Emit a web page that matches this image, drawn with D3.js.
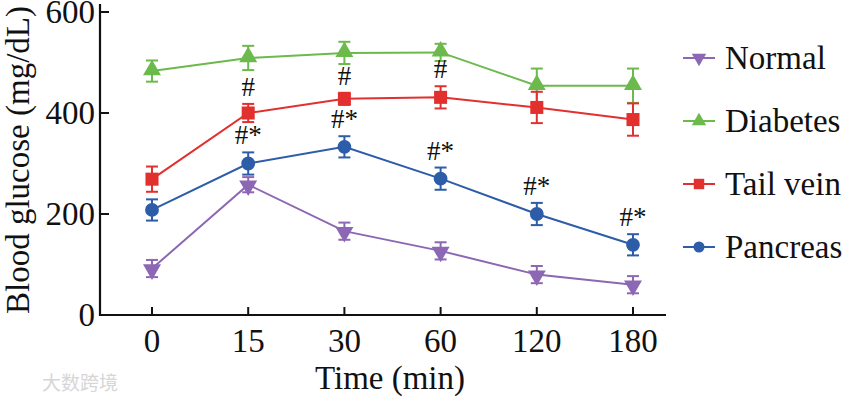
<!DOCTYPE html>
<html>
<head>
<meta charset="utf-8">
<script src="https://cdn.jsdelivr.net/npm/d3@7"></script>
<style>
  html, body { margin: 0; padding: 0; background: #fff; }
  svg { display: block; }
  text { font-family: "Liberation Serif", "DejaVu Serif", serif; fill: #111; }
</style>
</head>
<body>
<div id="chart"></div>
<script>
// time points (min)
const categories = ["0", "15", "30", "60", "120", "180"];
const yTicks = [0, 200, 400, 600];

// mean values and error (mg/dL)
const normal = [92, 258, 166, 127, 80, 60];
const normalErr = [17, 15, 17, 17, 17, 17];
const diabetes = [483, 509, 519, 520, 454, 454];
const diabetesErr = [21, 24, 22, 17, 34, 34];
const tailVein = [269, 400, 428, 431, 411, 387];
const tailVeinErr = [25, 18, 12, 22, 31, 32];
const pancreas = [208, 300, 333, 270, 200, 139];
const pancreasErr = [21, 22, 21, 22, 22, 21];

// significance marks
const tailVeinMarks = ["", "#", "#", "#", "", ""];
const pancreasMarks = ["", "#*", "#*", "#*", "#*", "#*"];

const series = [
    {name: "Normal", values: normal, err: normalErr, color: "#8c67b4", shape: "down"},
    {name: "Diabetes", values: diabetes, err: diabetesErr, color: "#6cb94c", shape: "up"},
    {name: "Tail vein", values: tailVein, err: tailVeinErr, color: "#e2302f", shape: "square", marks: tailVeinMarks},
    {name: "Pancreas", values: pancreas, err: pancreasErr, color: "#2d5ca9", shape: "circle", marks: pancreasMarks}
];

const width = 845, height = 399;
const svg = d3.select("#chart").append("svg")
    .attr("width", width)
    .attr("height", height);

const x = d3.scalePoint().domain(categories).range([152, 633]);
const y = d3.scaleLinear().domain([0, 600]).range([315, 12]);
const axisLeft = 100, axisRight = 666, axisTop = 4;

function symbolPath(shape) {
    if (shape === "circle") return d3.symbol(d3.symbolCircle, 150)();
    if (shape === "square") return d3.symbol(d3.symbolSquare, 170)();
    return d3.symbol(d3.symbolTriangle, 140)();
}

// series
series.forEach(s => {
    const g = svg.append("g");
    const line = d3.line().x((d, i) => x(categories[i])).y(d => y(d));
    g.append("path")
        .datum(s.values)
        .attr("d", line)
        .attr("fill", "none")
        .attr("stroke", s.color)
        .attr("stroke-width", 2);

    // error bars
    s.values.forEach((v, i) => {
        const cx = x(categories[i]);
        const e = s.err[i];
        g.append("line")
            .attr("x1", cx).attr("x2", cx)
            .attr("y1", y(v + e)).attr("y2", y(v - e))
            .attr("stroke", s.color).attr("stroke-width", 2);
        [v + e, v - e].forEach(c => {
            g.append("line")
                .attr("x1", cx - 6).attr("x2", cx + 6)
                .attr("y1", y(c)).attr("y2", y(c))
                .attr("stroke", s.color).attr("stroke-width", 2);
        });
    });

    g.selectAll("path.pt")
        .data(s.values)
        .join("path")
        .attr("class", "pt")
        .attr("d", symbolPath(s.shape))
        .attr("transform", (d, i) => `translate(${x(categories[i])},${y(d) + (s.shape === "down" ? 1 : s.shape === "up" ? -1 : 0)})${s.shape === "down" ? " rotate(180)" : ""}`)
        .attr("fill", s.color);

    if (s.marks) {
        g.selectAll("text.mark")
            .data(s.marks)
            .join("text")
            .attr("class", "mark")
            .attr("x", (d, i) => x(categories[i]))
            .attr("y", (d, i) => y(s.values[i] + s.err[i]) - 8)
            .attr("text-anchor", "middle")
            .style("font-size", "27px")
            .text(d => d);
    }
});

// axes
const axes = svg.append("g");
axes.append("line")
    .attr("x1", axisLeft).attr("x2", axisLeft)
    .attr("y1", axisTop).attr("y2", y(0) + 1)
    .attr("stroke", "#111").attr("stroke-width", 2.2);
axes.append("line")
    .attr("x1", axisLeft - 1).attr("x2", axisRight)
    .attr("y1", y(0)).attr("y2", y(0))
    .attr("stroke", "#111").attr("stroke-width", 2.2);

axes.selectAll("line.ytick")
    .data(yTicks.filter(d => d > 0))
    .join("line")
    .attr("class", "ytick")
    .attr("x1", axisLeft).attr("x2", axisLeft + 9)
    .attr("y1", d => y(d)).attr("y2", d => y(d))
    .attr("stroke", "#111").attr("stroke-width", 2);
axes.selectAll("text.ylab")
    .data(yTicks)
    .join("text")
    .attr("class", "ylab")
    .attr("x", 95)
    .attr("y", d => y(d) + 11)
    .attr("text-anchor", "end")
    .style("font-size", "33px")
    .text(d => d);

axes.selectAll("line.xtick")
    .data(categories)
    .join("line")
    .attr("class", "xtick")
    .attr("x1", d => x(d)).attr("x2", d => x(d))
    .attr("y1", y(0)).attr("y2", y(0) - 8)
    .attr("stroke", "#111").attr("stroke-width", 2);
axes.selectAll("text.xlab")
    .data(categories)
    .join("text")
    .attr("class", "xlab")
    .attr("x", d => x(d))
    .attr("y", 352)
    .attr("text-anchor", "middle")
    .style("font-size", "33px")
    .text(d => d);

svg.append("text")
    .attr("x", 390).attr("y", 389)
    .attr("text-anchor", "middle")
    .style("font-size", "33px")
    .text("Time (min)");

svg.append("text")
    .attr("transform", "translate(29,160) rotate(-90)")
    .attr("text-anchor", "middle")
    .style("font-size", "33px")
    .text("Blood glucose (mg/dL)");

// legend
const legend = svg.append("g");
series.forEach((s, i) => {
    const ly = 58 + i * 63;
    legend.append("line")
        .attr("x1", 683).attr("x2", 715)
        .attr("y1", ly).attr("y2", ly)
        .attr("stroke", s.color).attr("stroke-width", 2);
    legend.append("path")
        .attr("d", symbolPath(s.shape))
        .attr("transform", `translate(699,${ly})${s.shape === "down" ? " rotate(180)" : ""} scale(0.8)`)
        .attr("fill", s.color);
    legend.append("text")
        .attr("x", 725).attr("y", ly + 11)
        .style("font-size", "33px")
        .text(s.name);
});

// watermark
svg.append("text")
    .attr("x", 42).attr("y", 390)
    .style("font-family", "'Noto Sans CJK SC', sans-serif")
    .style("font-size", "19px")
    .style("fill", "#d6d6d6")
    .text("大数跨境");
</script>
</body>
</html>
